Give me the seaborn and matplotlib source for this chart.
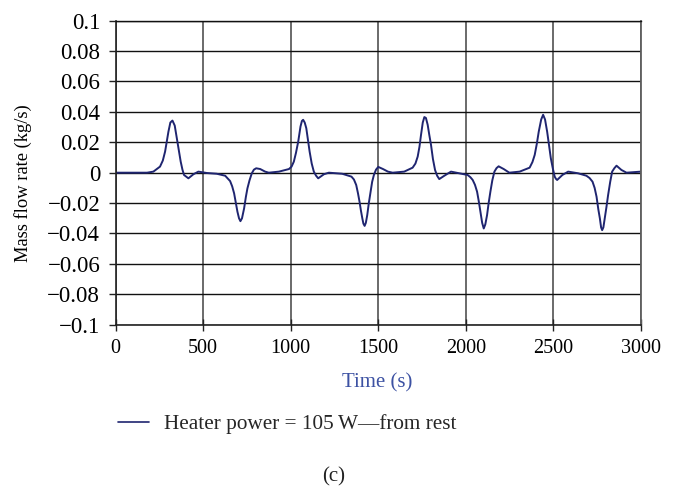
import numpy as np
import pandas as pd
import matplotlib
matplotlib.use("Agg")
import matplotlib.pyplot as plt
import seaborn as sns

# Mass flow rate response, heater power 105 W, starting from rest
time_s = [0, 100, 180, 216, 254, 270, 283, 292, 302, 313, 325, 338, 350, 362,
          372, 382, 391, 416, 445, 473, 521, 578, 626, 654, 666, 677, 687, 696,
          705, 713, 722, 734, 744, 753, 765, 778, 790, 803, 826, 854, 875, 933,
          990, 1005, 1018, 1030, 1043, 1056, 1064, 1071, 1080, 1089, 1098, 1108,
          1120, 1132, 1145, 1157, 1190, 1218, 1294, 1347, 1361, 1374, 1384, 1393,
          1401, 1409, 1415, 1422, 1429, 1437, 1446, 1456, 1465, 1475, 1487, 1500,
          1527, 1555, 1582, 1648, 1696, 1712, 1725, 1735, 1744, 1754, 1763, 1772,
          1782, 1791, 1801, 1812, 1824, 1836, 1848, 1877, 1915, 1963, 2010, 2026,
          2039, 2052, 2064, 2074, 2083, 2093, 2102, 2111, 2121, 2130, 2140, 2151,
          2163, 2175, 2187, 2216, 2248, 2307, 2364, 2380, 2393, 2405, 2416, 2430,
          2441, 2452, 2464, 2475, 2485, 2496, 2507, 2514, 2521, 2551, 2584, 2641,
          2688, 2706, 2723, 2735, 2746, 2756, 2765, 2772, 2778, 2785, 2793, 2802,
          2812, 2824, 2835, 2848, 2860, 2888, 2917, 2993, 3000]
mass_flow = [0.0, 0.0, 0.0, 0.0007, 0.004, 0.008, 0.0139, 0.020, 0.027, 0.033,
             0.0343, 0.031, 0.0227, 0.014, 0.0073, 0.002, -0.0015, -0.0037,
             -0.001, 0.0007, -0.0002, -0.0007, -0.002, -0.0055, -0.009, -0.0136,
             -0.020, -0.0257, -0.030, -0.0319, -0.030, -0.0235, -0.016, -0.0103,
             -0.005, -0.0004, 0.002, 0.0029, 0.0024, 0.0007, 0.0, 0.0007,
             0.0024, 0.004, 0.0073, 0.013, 0.0205, 0.0304, 0.034, 0.0348, 0.033,
             0.0293, 0.022, 0.0139, 0.006, 0.0007, -0.002, -0.0037, -0.001, 0.0,
             -0.0007, -0.0026, -0.0045, -0.0081, -0.0135, -0.0191, -0.025,
             -0.0301, -0.0335, -0.035, -0.033, -0.0279, -0.020, -0.0125, -0.006,
             -0.0015, 0.002, 0.0038, 0.0024, 0.0007, 0.0, 0.0007, 0.0033, 0.006,
             0.0106, 0.017, 0.0249, 0.033, 0.0366, 0.036, 0.0315, 0.025, 0.0183,
             0.009, 0.0018, -0.002, -0.0042, -0.002, 0.0007, -0.0004, -0.0015,
             -0.003, -0.0048, -0.008, -0.0125, -0.019, -0.0257, -0.033, -0.0367,
             -0.034, -0.0279, -0.020, -0.0125, -0.005, 0.0007, 0.003, 0.0042,
             0.0024, 0.0, 0.0007, 0.0033, 0.007, 0.0117, 0.019, 0.027, 0.035,
             0.0381, 0.035, 0.027, 0.018, 0.0095, 0.003, -0.0026, -0.004, -0.0048,
             -0.0015, 0.0007, -0.0004, -0.002, -0.0035, -0.0059, -0.010, -0.0158,
             -0.024, -0.0301, -0.036, -0.0378, -0.036, -0.0301, -0.023, -0.0147,
             -0.006, 0.0007, 0.003, 0.0046, 0.0018, 0.0, 0.0007, 0.0007]

series_name = "Heater power = 105\u2009W\u2014from rest"

x_ticks = [0, 500, 1000, 1500, 2000, 2500, 3000]
x_tick_labels = ["0", "500", "1000", "1500", "2000", "2500", "3000"]
y_ticks = [0.1, 0.08, 0.06, 0.04, 0.02, 0.0, -0.02, -0.04, -0.06, -0.08, -0.1]
y_tick_labels = ["0.1", "0.08", "0.06", "0.04", "0.02", "0",
                 "\u22120.02", "\u22120.04", "\u22120.06", "\u22120.08", "\u22120.1"]

df = pd.DataFrame({"Time (s)": time_s, "Mass flow rate (kg/s)": mass_flow,
                   "run": series_name})

sns.set_theme(style="white")
plt.rcParams["font.family"] = ["Liberation Serif", "DejaVu Serif"]
plt.rcParams["axes.unicode_minus"] = True

fig = plt.figure(figsize=(6.74, 4.87), dpi=100)
ax = fig.add_axes([0.1714, 0.3333, 0.7797, 0.6242])

line_color = "#1f2570"
sns.lineplot(data=df, x="Time (s)", y="Mass flow rate (kg/s)", hue="run",
             palette=[line_color], linewidth=1.4, ax=ax, legend=False,
             solid_joinstyle="round", solid_capstyle="round")

ax.set_xlim(0, 3000)
ax.set_ylim(-0.1, 0.1)
ax.set_xticks(x_ticks)
ax.set_xticklabels(x_tick_labels, fontsize=14.5)
ax.set_yticks(y_ticks)
ax.set_yticklabels(y_tick_labels, fontsize=16.5)

# grid: black horizontal lines, grey vertical lines
ax.grid(False)
ax.yaxis.grid(True, color="#111111", linewidth=1.0)
ax.xaxis.grid(True, color="#5f5f5f", linewidth=1.3)
ax.set_axisbelow(True)

for side in ["left", "bottom"]:
    ax.spines[side].set_color("#222222")
    ax.spines[side].set_linewidth(1.2)
ax.spines["top"].set_color("#111111")
ax.spines["top"].set_linewidth(1.0)
ax.spines["right"].set_color("#5f5f5f")
ax.spines["right"].set_linewidth(1.3)

ax.tick_params(axis="y", direction="out", length=5, width=1, color="#222222",
               pad=6, left=True, labelcolor="black")
ax.tick_params(axis="x", direction="inout", length=8, width=1, color="#222222",
               pad=6, bottom=True, labelcolor="black")

ax.set_ylabel("Mass flow rate (kg/s)", fontsize=13.3, color="black")
ax.yaxis.set_label_coords(-0.159, 0.466)
ax.set_xlabel("Time (s)", fontsize=15, color="#3d52a3")
ax.xaxis.label.set_va("center")
ax.xaxis.set_label_coords(0.4976, -0.19)

handle = plt.Line2D([], [], color=line_color, linewidth=1.2)
fig.legend([handle], [series_name], loc="center left",
           bbox_to_anchor=(118 / 674, 1 - 424 / 487), frameon=False,
           fontsize=15.3, handlelength=1.45, handletextpad=0.72,
           borderpad=0, borderaxespad=0)

fig.text(0.4955, 1 - 477 / 487, "(c)", ha="center", va="center", fontsize=15,
         color="#222222")

fig.savefig("out.png", dpi=100)
